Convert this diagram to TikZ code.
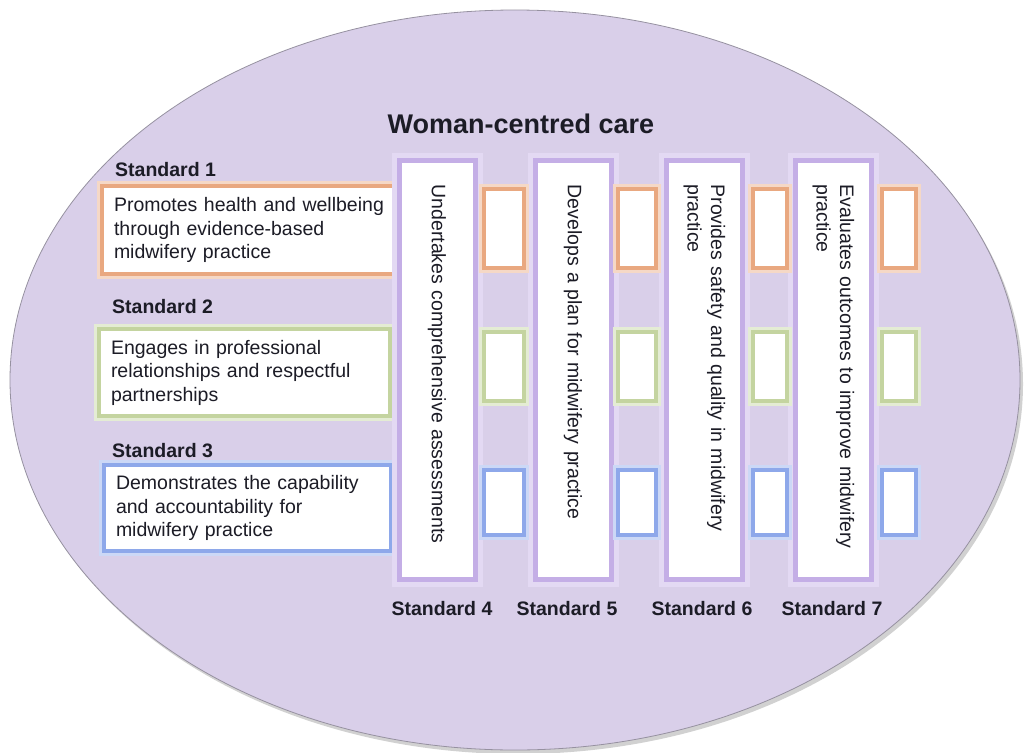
\documentclass[tikz,border=0pt]{standalone}
\usepackage{fontspec}
\setmainfont{Liberation Sans}
\usepackage{tikz}

\definecolor{lavender}{RGB}{217,207,233}
\definecolor{rimgray}{RGB}{150,145,160}
\definecolor{orng}{RGB}{233,168,128}
\definecolor{grn}{RGB}{196,212,160}
\definecolor{blu}{RGB}{142,168,234}
\definecolor{lilac}{RGB}{186,160,226}
\definecolor{ink}{RGB}{28,28,38}

\newcommand{\bodyfont}{\fontsize{19.5}{23.5}\selectfont}
\newcommand{\boldfont}{\fontsize{19.5}{23.5}\selectfont\bfseries}
\newcommand{\titlefont}{\fontsize{27}{32}\selectfont\bfseries}

\begin{document}
\begin{tikzpicture}[x=1pt, y=-1pt,
    rowbox/.style={draw=#1, line width=4pt, fill=white,
      preaction={draw=#1!45, line width=10pt},
      inner xsep=12pt, inner ysep=0pt, align=left, text=ink, font=\bodyfont},
    stdcol/.style={rotate=-90, draw=lilac!85, line width=5pt, fill=white,
      preaction={draw=lilac!40, line width=15pt},
      minimum width=419pt, minimum height=76pt, text width=371pt,
      inner xsep=24pt, align=left, text=ink, font=\bodyfont},
    cell/.style={draw=#1, line width=4pt, fill=white,
      preaction={draw=#1!45, line width=10pt}, inner sep=0pt},
    stdlabel/.style={inner sep=0pt, text=ink, font=\boldfont}]
    \useasboundingbox (0,0) rectangle (1024,752);

    % Background ellipse
    \fill[black!18] (518,384) ellipse [x radius=505, y radius=370];
    \draw[rimgray, line width=0.8pt, fill=lavender] (515,380) ellipse [x radius=505, y radius=370];

    % Title
    \node[inner sep=0pt, text=ink, font=\titlefont] (title) at (521,124) {Woman-centred care};

    % Standards 1-3
    \node[stdlabel, anchor=west] (l1) at (115,170) {Standard 1};
    \node[stdlabel, anchor=west] (l2) at (112,307) {Standard 2};
    \node[stdlabel, anchor=west] (l3) at (112,451) {Standard 3};

    \node[rowbox=orng, minimum width=293pt, minimum height=88pt, text width=269pt] (s1) at (248.5,230)
        {\mbox{Promotes health and wellbeing}\\ through evidence-based\\ midwifery practice};
    \node[rowbox=grn, minimum width=291pt, minimum height=87pt, text width=267pt] (s2) at (244.5,372.5)
        {Engages in professional\\ relationships and respectful\\ partnerships};
    \node[rowbox=blu, minimum width=287pt, minimum height=86pt, text width=263pt] (s3) at (247.5,508)
        {Demonstrates the capability\\ and accountability for\\ midwifery practice};

    % Standards 4-7
    \node[stdcol] (c4) at (437,370) {Undertakes comprehensive assessments};
    \node[stdcol] (c5) at (573,370) {Develops a plan for midwifery practice};
    \node[stdcol] (c6) at (704.5,370) {Provides safety and quality in midwifery\\ practice};
    \node[stdcol] (c7) at (833.5,370) {Evaluates outcomes to improve midwifery\\ practice};

    % Grid cells
    \foreach \cx/\w/\n in {503.5/40/4, 636.5/38/5, 769.5/34/6, 898.5/34/7}
      \foreach \cy/\h/\c/\r in {228.5/79/orng/1, 366.5/69/grn/2, 502.5/65/blu/3}
        \node[cell=\c, minimum width=\w pt, minimum height=\h pt] (b\n\r) at (\cx,\cy) {};

    % Labels
    \node[stdlabel] (l4) at (442,609) {Standard 4};
    \node[stdlabel] (l5) at (567,609) {Standard 5};
    \node[stdlabel] (l6) at (702,609) {Standard 6};
    \node[stdlabel] (l7) at (832,609) {Standard 7};
\end{tikzpicture}
\end{document}
